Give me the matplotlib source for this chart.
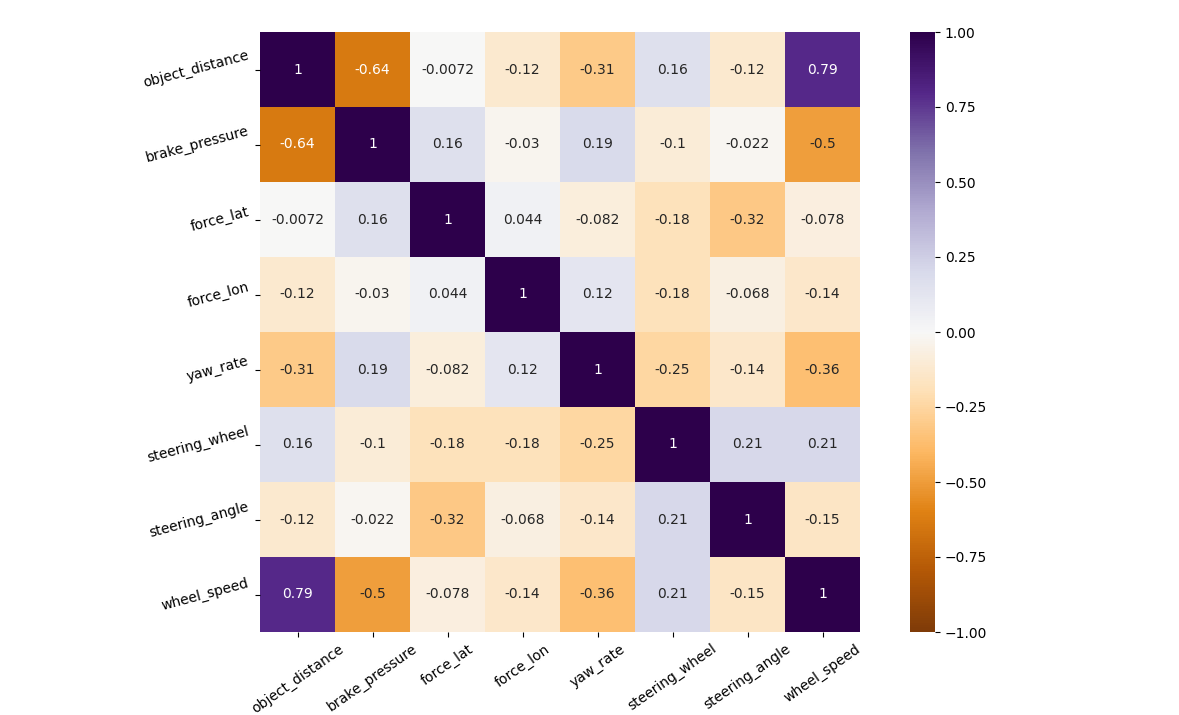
import matplotlib
matplotlib.use("Agg")
import matplotlib.pyplot as plt
import numpy as np
import seaborn as sns

labels = ["object_distance", "brake_pressure", "force_lat", "force_lon",
          "yaw_rate", "steering_wheel", "steering_angle", "wheel_speed"]

# correlation matrix
corr = np.array([
    [1,       -0.64,  -0.0072, -0.12,  -0.31,  0.16,  -0.12,  0.79],
    [-0.64,   1,      0.16,    -0.03,  0.19,   -0.1,  -0.022, -0.5],
    [-0.0072, 0.16,   1,       0.044,  -0.082, -0.18, -0.32,  -0.078],
    [-0.12,   -0.03,  0.044,   1,      0.12,   -0.18, -0.068, -0.14],
    [-0.31,   0.19,   -0.082,  0.12,   1,      -0.25, -0.14,  -0.36],
    [0.16,    -0.1,   -0.18,   -0.18,  -0.25,  1,     0.21,   0.21],
    [-0.12,   -0.022, -0.32,   -0.068, -0.14,  0.21,  1,      -0.15],
    [0.79,    -0.5,   -0.078,  -0.14,  -0.36,  0.21,  -0.15,  1],
])

fig = plt.figure(figsize=(11.79, 7.15), dpi=100)
ax = fig.add_axes([260/1179, 83/715, 600/1179, 600/715])
cax = fig.add_axes([910/1179, 83/715, 25/1179, 600/715])

sns.heatmap(corr, annot=True, cmap="PuOr", vmin=-1, vmax=1,
            xticklabels=labels, yticklabels=labels, ax=ax, cbar_ax=cax)

plt.setp(ax.get_xticklabels(), rotation=35)
plt.setp(ax.get_yticklabels(), rotation=15)

fig.savefig("out.png", dpi=100)
